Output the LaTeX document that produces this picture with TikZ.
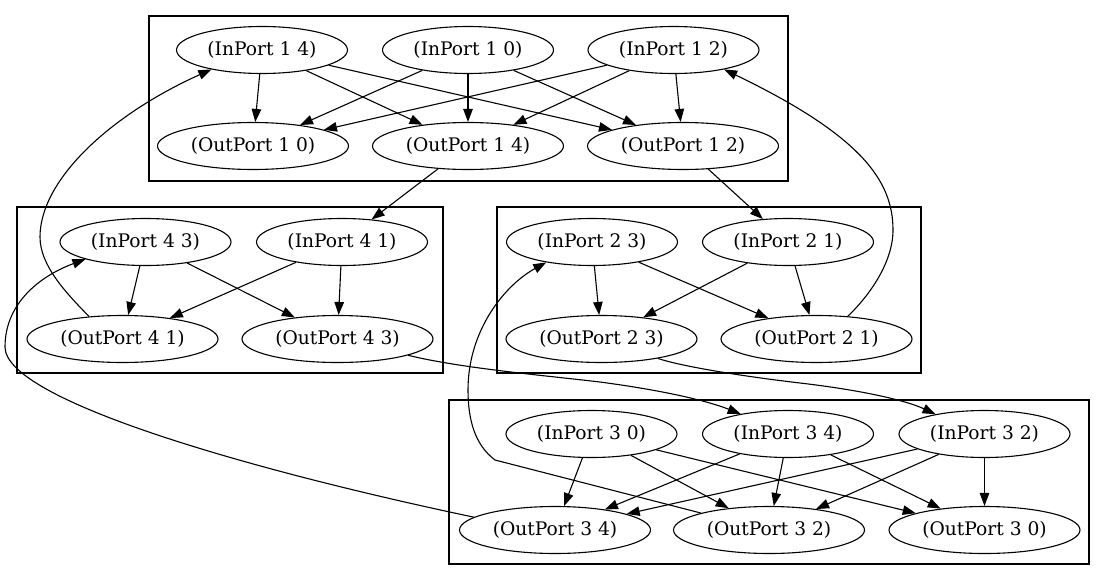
\documentclass[tikz,border=0pt]{standalone}
\usepackage{fontspec}
\setmainfont{DejaVu Serif}
\usetikzlibrary{arrows.meta,shapes.geometric}
\begin{document}
\begin{tikzpicture}[x=1pt,y=-1pt,
  port/.style={draw,ellipse,inner sep=0pt,minimum height=47pt,font=\fontsize{18.67}{22}\selectfont,line width=1.1pt},
  inport/.style={port,minimum width=171pt},
  outport/.style={port,minimum width=191pt},
  cluster/.style={draw,line width=1.1pt},
  edge/.style={-{Triangle[length=13pt,width=9.5pt]},line width=1.1pt}]
\useasboundingbox (0,0) rectangle (1106,581);
% clusters
\draw[cluster] (149,16) rectangle (788,181);
\draw[cluster] (17,207) rectangle (443,373);
\draw[cluster] (497,207) rectangle (921,373);
\draw[cluster] (449,400) rectangle (1089,564);
% cluster 1
\node[inport] (i14) at (262,50) {(InPort 1 4)};
\node[inport] (i10) at (468,50) {(InPort 1 0)};
\node[inport] (i12) at (673.5,50) {(InPort 1 2)};
\node[outport] (o10) at (253,146) {(OutPort 1 0)};
\node[outport] (o14) at (468,146) {(OutPort 1 4)};
\node[outport] (o12) at (683,146) {(OutPort 1 2)};
% cluster 4
\node[inport] (i43) at (145.5,242) {(InPort 4 3)};
\node[inport] (i41) at (342,242) {(InPort 4 1)};
\node[outport] (o41) at (122.5,339) {(OutPort 4 1)};
\node[outport] (o43) at (337.5,339) {(OutPort 4 3)};
% cluster 2
\node[inport] (i23) at (592,242) {(InPort 2 3)};
\node[inport] (i21) at (788,242) {(InPort 2 1)};
\node[outport] (o23) at (601.5,339) {(OutPort 2 3)};
\node[outport] (o21) at (816.5,339) {(OutPort 2 1)};
% cluster 3
\node[inport] (i30) at (591.5,434) {(InPort 3 0)};
\node[inport] (i34) at (788,434) {(InPort 3 4)};
\node[inport] (i32) at (984.5,434) {(InPort 3 2)};
\node[outport] (o34) at (555,530) {(OutPort 3 4)};
\node[outport] (o32) at (769,530) {(OutPort 3 2)};
\node[outport] (o30) at (984.5,530) {(OutPort 3 0)};
% intra-cluster edges
\foreach \a in {i14,i10,i12}{\foreach \b in {o10,o14,o12}{\draw[edge] (\a) -- (\b);}}
\foreach \a in {i43,i41}{\foreach \b in {o41,o43}{\draw[edge] (\a) -- (\b);}}
\foreach \a in {i23,i21}{\foreach \b in {o23,o21}{\draw[edge] (\a) -- (\b);}}
\foreach \a in {i30,i34,i32}{\foreach \b in {o34,o32,o30}{\draw[edge] (\a) -- (\b);}}
% inter-cluster edges
\draw[edge] (o14) -- (i41);
\draw[edge] (o12) -- (i21);
\draw[edge] (o21.36) .. controls (870,295) and (893,262) .. (893,230) .. controls (893,180) and (860,135) .. (i12.-21);
\draw[edge] (o41.146) .. controls (65,292) and (40,265) .. (40,237) .. controls (40,180) and (110,115) .. (i14.201.5);
\draw[edge] (o34.171.7) .. controls (250,470) and (5,400) .. (5,347) .. controls (5,300) and (45,274) .. (i43.196.8);
\draw[edge] (o32.166.8) -- (495,460) .. controls (475,445) and (468,420) .. (468,390) .. controls (468,330) and (505,285) .. (i23.204.6);
\draw[edge] (o43.-13.8) .. controls (460,368) and (540,375) .. (600,382) .. controls (660,390) and (705,400) .. (i34.157.9);
\draw[edge] (o23.-19) .. controls (680,366) and (740,376) .. (800,383) .. controls (860,390) and (905,400) .. (i32.158.8);
\end{tikzpicture}
\end{document}
